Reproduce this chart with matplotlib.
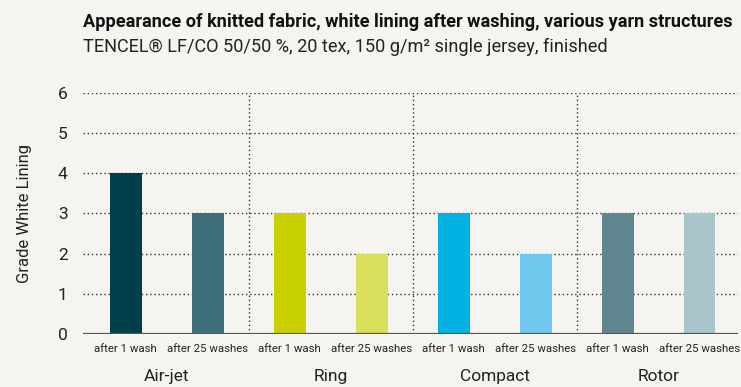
import matplotlib.pyplot as plt

# Yarn structures and washing grades
groups = ["Air-jet", "Ring", "Compact", "Rotor"]
washes = ["after 1 wash", "after 25 washes"]
after_1 = [4, 3, 3, 3]
after_25 = [3, 2, 2, 3]
colors_1 = ["#003e4c", "#c8d000", "#00b1e1", "#5f8591"]
colors_25 = ["#3f6e7b", "#dadf5b", "#70c7ed", "#aac4cb"]

plt.rcParams["font.family"] = ["Roboto", "DejaVu Sans"]

bg = "#f5f4f0"
fig = plt.figure(figsize=(7.41, 3.87), dpi=100, facecolor=bg)
ax = fig.add_axes([0.112, 0.137, 0.884, 0.623], facecolor=bg)

positions = []
values = []
colors = []
for i in range(len(groups)):
    positions += [2 * i, 2 * i + 1]
    values += [after_1[i], after_25[i]]
    colors += [colors_1[i], colors_25[i]]

# dotted grid first so the bars sit on top
for y in range(1, 7):
    ax.axhline(y, color="#333333", lw=1.0, ls=(0, (1, 2)), zorder=1)
for x in [1.5, 3.5, 5.5]:
    ax.plot([x, x], [0, 6], color="#333333", lw=1.0, ls=(0, (1, 2)), zorder=1)

ax.bar(positions, values, width=0.39, color=colors, zorder=3)
ax.axhline(0, color="#555555", lw=1.6, zorder=4)

ax.set_xlim(-0.52, 7.47)
ax.set_ylim(0, 6)
ax.set_yticks(range(0, 7))
ax.set_yticklabels([str(v) for v in range(0, 7)], fontsize=12.5, color="#222222")
ax.set_xticks(positions)
ax.set_xticklabels(washes * len(groups), fontsize=8.2, color="#222222")
ax.tick_params(length=0, pad=7)
ax.tick_params(axis="y", pad=11)
for s in ax.spines.values():
    s.set_visible(False)

for i, g in enumerate(groups):
    ax.text(2 * i + 0.5, -1.05, g, fontsize=12.5, color="#222222",
            ha="center", va="center")

ax.set_ylabel("Grade White Lining", fontsize=12, color="#222222", labelpad=19)

title = fig.text(0.112, 0.943, "Appearance of knitted fabric, white lining after washing, various yarn structures",
                 fontsize=12, fontweight="bold", color="#111111", va="center")
sub = fig.text(0.112, 0.878, "TENCEL\u00ae LF/CO 50/50 %, 20 tex, 150 g/m\u00b2 single jersey, finished",
               fontsize=11, color="#222222", va="center")

# shrink the header lines to their column widths
fig.canvas.draw()
r = fig.canvas.get_renderer()
for t, w in [(title, 650), (sub, 524)]:
    cur = t.get_window_extent(r).width
    t.set_fontsize(t.get_fontsize() * w / cur)

fig.savefig("out.png", dpi=100, facecolor=bg)
